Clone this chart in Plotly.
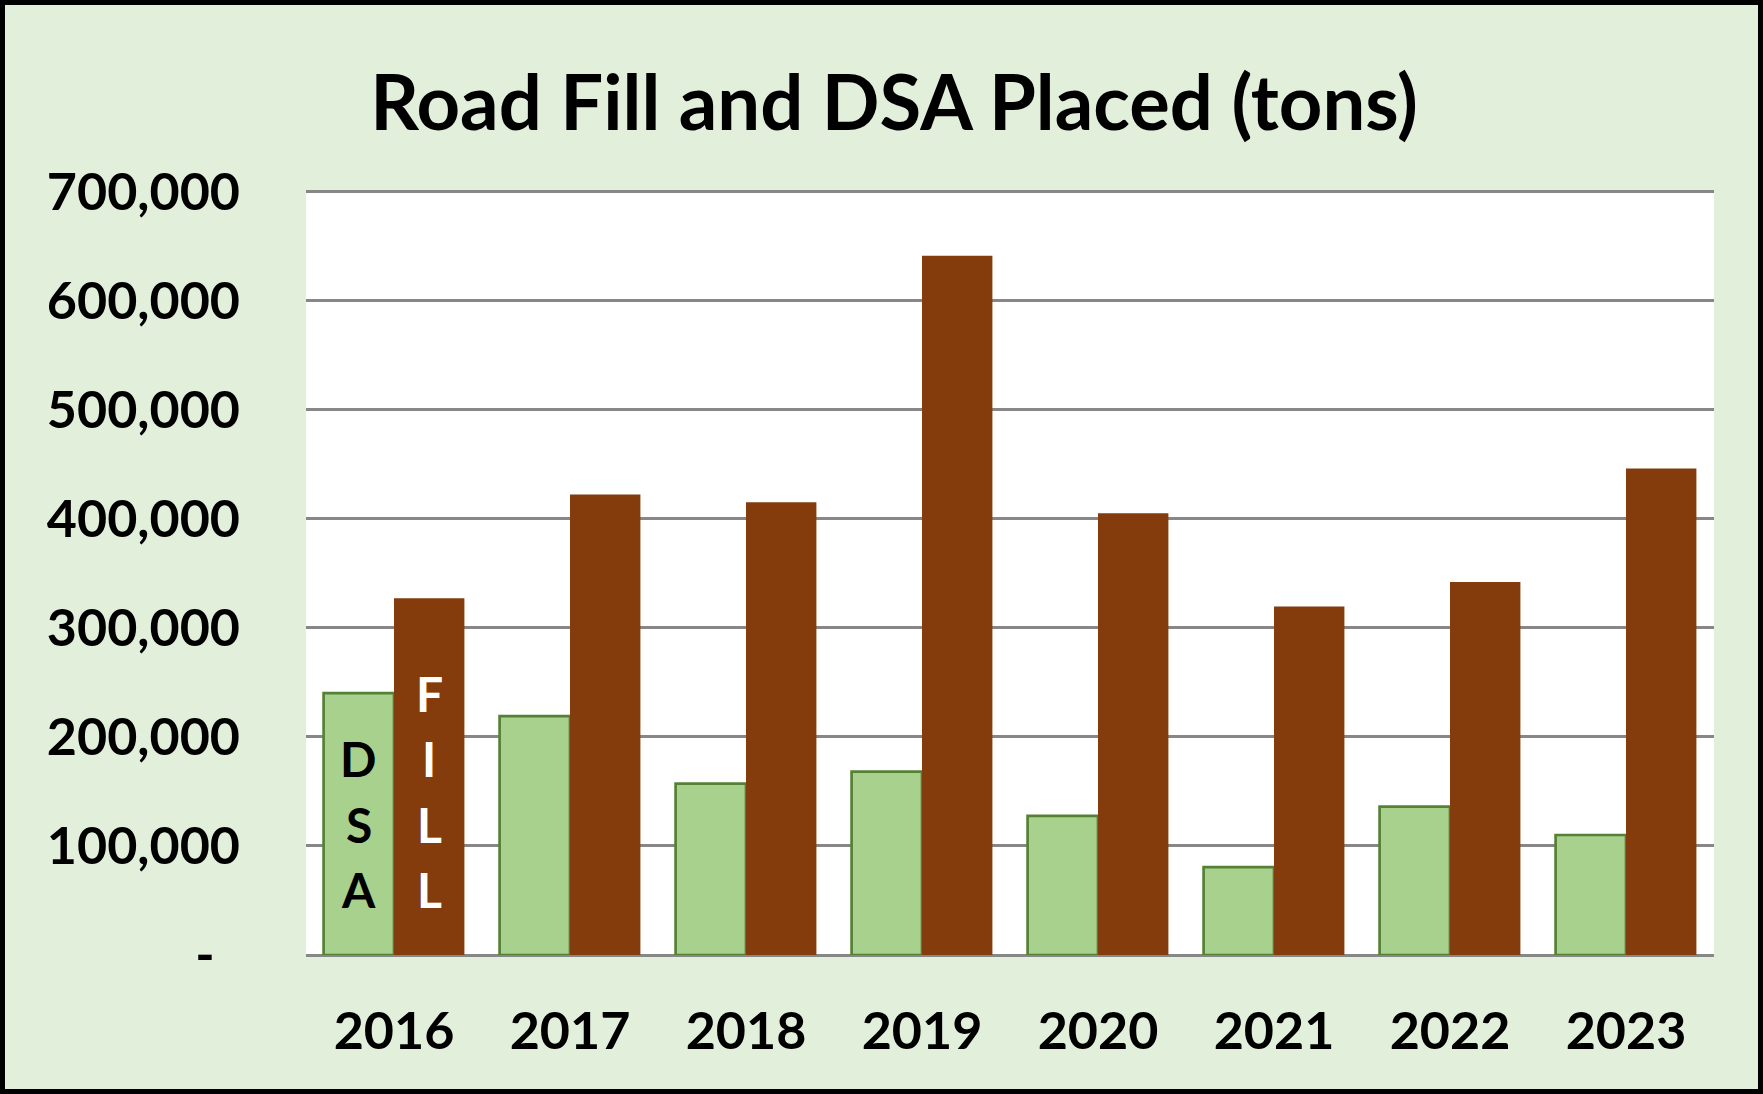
import plotly.graph_objects as go

# ---- data ----
years = ["2016", "2017", "2018", "2019", "2020", "2021", "2022", "2023"]
dsa_tons = [240000, 219000, 157000, 168000, 127500, 80500, 136000, 110000]
fill_tons = [327000, 422000, 415000, 641000, 405000, 319500, 342000, 446000]
y_tick_values = [0, 100000, 200000, 300000, 400000, 500000, 600000, 700000]
y_tick_labels = ["-\u00a0\u00a0", "100,000", "200,000", "300,000", "400,000",
                 "500,000", "600,000", "700,000"]
label_year = "2016"
dsa_letters = ["D", "S", "A"]
dsa_letter_y = [180000, 120000, 60000]
fill_letters = ["F", "I", "L", "L"]
fill_letter_y = [240000, 180000, 120000, 60000]
title_text = "Road Fill and DSA Placed (tons)"

# ---- style ----
W, H = 1763, 1094
L, R, T, B = 306, 49, 190, 139
FONT = "Lato"
PAPER = "#E2EFDA"
DSA_FILL = "#A9D18E"
DSA_LINE = "#548235"
FILL_COLOR = "#843C0C"
GRID = "#878787"

fig = go.Figure()
fig.add_trace(go.Bar(
    x=years, y=dsa_tons, name="DSA",
    marker=dict(color=DSA_FILL, line=dict(color=DSA_LINE, width=2.7)),
))
fig.add_trace(go.Bar(
    x=years, y=fill_tons, name="FILL",
    marker=dict(color=FILL_COLOR, line=dict(width=0)),
))

plot_w = W - L - R
bar_px = plot_w / len(years) * 0.8 / 2
cat_index = years.index(label_year)
for letter, yv in zip(dsa_letters, dsa_letter_y):
    fig.add_annotation(x=cat_index, y=yv, text=letter, showarrow=False,
                       xshift=-bar_px / 2, yanchor="middle",
                       font=dict(family=FONT, size=48, color="black", weight="bold"))
for letter, yv in zip(fill_letters, fill_letter_y):
    fig.add_annotation(x=cat_index, y=yv, text=letter, showarrow=False,
                       xshift=bar_px / 2, yanchor="middle",
                       font=dict(family=FONT, size=48, color="white", weight="bold"))

# outer black frame
plot_h = H - T - B
inset = 2.5
fig.add_shape(type="rect", xref="paper", yref="paper",
              x0=(-L + inset) / plot_w, x1=1 + (R - inset) / plot_w,
              y0=(-B + inset) / plot_h, y1=1 + (T - inset) / plot_h,
              line=dict(color="black", width=5), fillcolor="rgba(0,0,0,0)",
              layer="above")

fig.update_layout(
    width=W, height=H,
    margin=dict(l=L, r=R, t=T, b=B, autoexpand=False),
    paper_bgcolor=PAPER, plot_bgcolor="white",
    barmode="group", bargap=0.2, bargroupgap=0,
    showlegend=False,
    title=dict(text=title_text, x=894 / W, xref="container", xanchor="center",
               y=1 - 103 / H, yref="container", yanchor="middle",
               font=dict(family=FONT, size=76, color="black", weight="bold")),
    font=dict(family=FONT, color="black"),
)
fig.update_yaxes(
    range=[0, 701200], tickvals=y_tick_values, ticktext=y_tick_labels,
    showgrid=True, gridcolor=GRID, gridwidth=3,
    zeroline=True, zerolinecolor=GRID, zerolinewidth=3,
    ticks="", ticklabelstandoff=65,
    tickfont=dict(family=FONT, size=52, color="black", weight="bold"),
    fixedrange=True,
)
fig.update_xaxes(
    type="category", range=[-0.5, len(years) - 0.5],
    showgrid=False, showline=False, ticks="", ticklabelstandoff=41,
    tickfont=dict(family=FONT, size=52, color="black", weight="bold"),
    fixedrange=True,
)

fig.write_html("out.html", config={"displayModeBar": False},
               post_script="document.body.style.margin='0';document.body.style.overflow='hidden';")
